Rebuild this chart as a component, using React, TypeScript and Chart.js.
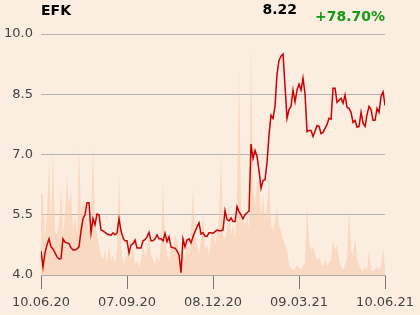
import React, { useEffect, useRef } from "react";
import { Chart, registerables } from "chart.js";

Chart.register(...registerables);

const ticker = "EFK";
const lastPrice = "8.22";
const change = "+78.70%";
const tickLabels = ["10.06.20", "07.09.20", "08.12.20", "09.03.21", "10.06.21"];
const yTicks = [4.0, 5.5, 7.0, 8.5, 10.0];

const prices = [
  4.6, 4.2, 4.55, 4.75, 4.9, 4.7, 4.65, 4.55, 4.45, 4.4,
  4.41, 4.9, 4.82, 4.8, 4.78, 4.68, 4.62, 4.62, 4.65, 4.7,
  5.1, 5.4, 5.5, 5.8, 5.8, 5.05, 5.4, 5.25, 5.52, 5.5,
  5.12, 5.1, 5.06, 5.02, 5.0, 4.99, 5.05, 5.0, 5.04, 5.4,
  5.1, 4.92, 4.85, 4.85, 4.55, 4.75, 4.78, 4.87, 4.67, 4.67,
  4.67, 4.85, 4.88, 4.95, 5.06, 4.85, 4.85, 4.9, 5.0, 4.9,
  4.9, 4.85, 5.04, 4.83, 4.95, 4.7, 4.68, 4.67, 4.6, 4.5,
  4.06, 4.9, 4.7, 4.87, 4.9, 4.8, 4.95, 5.08, 5.2, 5.3,
  5.02, 5.05, 4.97, 4.96, 5.05, 5.05, 5.04, 5.08, 5.12, 5.1,
  5.1, 5.12, 5.6, 5.38, 5.35, 5.42, 5.33, 5.33, 5.7, 5.58,
  5.5, 5.4, 5.5, 5.55, 5.59, 7.26, 6.9, 7.1, 6.95, 6.6,
  6.16, 6.35, 6.37, 6.8, 7.5, 7.98, 7.9, 8.2, 9.0, 9.35,
  9.45, 9.5, 8.7, 7.9, 8.12, 8.2, 8.6, 8.31, 8.6, 8.75,
  8.6, 8.9, 8.5, 7.57, 7.6, 7.6, 7.45, 7.58, 7.72, 7.7,
  7.52, 7.55, 7.65, 7.75, 7.9, 7.88, 8.65, 8.65, 8.3, 8.35,
  8.4, 8.28, 8.48, 8.17, 8.15, 8.05, 7.8, 7.85, 7.68, 7.7,
  8.05, 7.78, 7.7, 8.0, 8.2, 8.12, 7.85, 7.85, 8.15, 8.05,
  8.45, 8.56, 8.22,
];

const volumes = [
  164, 160, 70, 120, 230, 100, 250, 90, 80, 110,
  176, 80, 120, 200, 140, 170, 90, 120, 80, 256,
  120, 150, 140, 110, 90, 120, 254, 100, 80, 60,
  40, 30, 50, 24, 60, 30, 40, 24, 50, 198,
  60, 24, 30, 40, 50, 30, 60, 20, 30, 16,
  30, 60, 36, 50, 80, 40, 30, 20, 40, 24,
  60, 186, 70, 40, 30, 60, 50, 80, 70, 40,
  20, 50, 30, 60, 40, 90, 172, 80, 60, 40,
  70, 120, 50, 60, 40, 70, 90, 60, 80, 120,
  240, 80, 70, 90, 140, 80, 100, 70, 160, 410,
  140, 110, 100, 120, 90, 456, 180, 140, 184, 190,
  120, 160, 110, 140, 200, 100, 90, 110, 134, 100,
  86, 70, 60, 50, 20, 14, 10, 12, 20, 16,
  10, 20, 24, 138, 70, 50, 56, 40, 30, 36,
  24, 16, 30, 20, 24, 30, 72, 50, 60, 30,
  16, 10, 20, 36, 132, 50, 40, 74, 30, 20,
  10, 8, 16, 10, 50, 10, 8, 12, 16, 10,
  20, 54, 10,
];

const idx = prices.map((_, i) => i);
const lastIndex = prices.length - 1;
const tickStep = lastIndex / (tickLabels.length - 1);

export default function App() {
  const ref = useRef<HTMLCanvasElement | null>(null);

  useEffect(() => {
    document.body.style.margin = "0";
    document.body.style.background = "#fcede1";
    const canvas = ref.current;
    if (!canvas) return;

    const headerPlugin = {
      id: "header",
      afterDraw(chart: any) {
        const ctx = chart.ctx;
        ctx.save();
        ctx.textBaseline = "middle";
        ctx.font = "bold 14px 'DejaVu Sans'";
        ctx.fillStyle = "#000";
        ctx.textAlign = "left";
        ctx.fillText(ticker, 41, 11);
        ctx.textAlign = "right";
        ctx.fillText(lastPrice, 297, 10);
        ctx.fillStyle = "#149a14";
        ctx.fillText(change, 385, 17);
        ctx.restore();
      },
    };

    const chart = new Chart(canvas, {
      type: "line",
      data: {
        labels: idx,
        datasets: [
          {
            data: prices.map((p, i) => ({ x: i, y: p })),
            borderColor: "#cc0000",
            borderWidth: 1.5,
            pointRadius: 0,
            tension: 0,
            fill: false,
            yAxisID: "y",
            order: 1,
          },
          {
            data: volumes.map((v, i) => ({ x: i, y: v })),
            borderWidth: 0,
            borderColor: "rgba(0,0,0,0)",
            backgroundColor: "rgba(245,200,168,0.55)",
            pointRadius: 0,
            tension: 0,
            fill: "origin",
            yAxisID: "y2",
            order: 2,
          },
        ],
      },
      options: {
        animation: false,
        responsive: false,
        maintainAspectRatio: false,
        layout: { padding: { left: 0, right: 34, top: 34, bottom: 0 } },
        plugins: { legend: { display: false }, tooltip: { enabled: false } },
        scales: {
          x: {
            type: "linear",
            min: 0,
            max: lastIndex,
            afterBuildTicks(scale: any) {
              scale.ticks = tickLabels.map((_, i) => ({ value: i * tickStep }));
            },
            afterFit(scale: any) {
              scale.height = 40;
            },
            ticks: {
              callback: (_v: any, i: number) => tickLabels[i],
              font: { family: "'DejaVu Sans'", size: 13 },
              color: "#444",
              padding: 6,
              maxRotation: 0,
              autoSkip: false,
            },
            grid: {
              drawOnChartArea: false,
              drawTicks: true,
              tickLength: 14,
              color: "#777",
            },
            border: { display: true, color: "#aaa" },
          },
          y: {
            min: 4,
            max: 10,
            afterBuildTicks(scale: any) {
              scale.ticks = yTicks.map((v) => ({ value: v }));
            },
            afterFit(scale: any) {
              scale.width = 41;
            },
            ticks: {
              callback: (v: any) => Number(v).toFixed(1),
              font: { family: "'DejaVu Sans'", size: 13 },
              color: "#444",
              padding: 8,
            },
            grid: { color: "#b3b3b3", drawTicks: false },
            border: { display: false },
          },
          y2: {
            display: false,
            min: 0,
            max: 482,
          },
        },
      },
      plugins: [headerPlugin],
    });
    return () => chart.destroy();
  }, []);

  return (
    <div style={{ width: 420, height: 315, background: "#fcede1" }}>
      <canvas ref={ref} width={420} height={315} style={{ display: "block" }} />
    </div>
  );
}
